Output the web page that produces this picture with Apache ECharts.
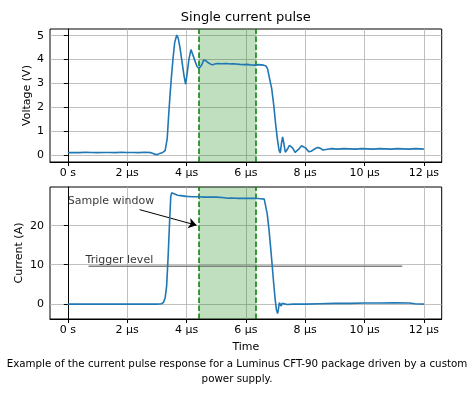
<!DOCTYPE html>
<html>
<head>
<meta charset="utf-8">
<script src="https://cdn.jsdelivr.net/npm/echarts@6/dist/echarts.min.js"></script>
<style>
html,body{margin:0;padding:0;background:#fff;}
#chart{width:474px;height:393px;}
</style>
</head>
<body>
<div id="chart"></div>
<script>
// ---- data ----
var xTicks = [0, 2, 4, 6, 8, 10, 12];
var voltTicks = [0, 1, 2, 3, 4, 5];
var currTicks = [0, 10, 20];
var windowStart = 4.42, windowEnd = 6.35;

var voltTime = [0.0,0.2,0.4,0.6,0.8,1.0,1.2,1.4,1.6,1.8,2.0,2.2,2.4,2.6,2.8,2.9,2.95,3.0,3.1,3.2,3.28,3.35,3.4,3.45,3.5,3.55,3.6,3.67,3.72,3.78,3.85,3.92,3.97,4.02,4.08,4.15,4.2,4.27,4.35,4.42,4.5,4.58,4.65,4.72,4.8,4.88,4.95,5.05,5.2,5.35,5.5,5.65,5.8,5.95,6.05,6.15,6.3,6.45,6.6,6.68,6.73,6.8,6.87,6.94,7.0,7.06,7.12,7.16,7.2,7.24,7.28,7.33,7.4,7.47,7.52,7.58,7.66,7.72,7.8,7.88,7.94,8.02,8.12,8.2,8.3,8.42,8.5,8.6,8.75,8.9,9.1,9.3,9.5,9.7,9.9,10.1,10.3,10.5,10.7,10.9,11.1,11.3,11.5,11.7,11.9,12.0];
var voltValue = [0.11,0.12,0.11,0.13,0.12,0.11,0.12,0.12,0.11,0.13,0.12,0.12,0.11,0.13,0.11,0.06,0.01,0.02,0.08,0.12,0.2,0.7,1.7,2.6,3.4,4.1,4.7,5.03,4.9,4.5,3.9,3.3,2.97,3.4,4.0,4.42,4.35,4.0,3.72,3.63,3.75,3.98,3.96,3.88,3.82,3.78,3.82,3.84,3.83,3.84,3.82,3.82,3.80,3.79,3.80,3.78,3.77,3.79,3.77,3.73,3.62,3.2,2.8,2.1,1.35,0.7,0.2,0.1,0.5,0.77,0.5,0.13,0.25,0.42,0.45,0.3,0.12,0.12,0.28,0.4,0.42,0.3,0.15,0.17,0.25,0.33,0.3,0.22,0.25,0.28,0.26,0.28,0.27,0.26,0.28,0.27,0.26,0.28,0.27,0.26,0.28,0.27,0.26,0.28,0.27,0.26];

var currTime = [0,1,2,3,3.15,3.22,3.28,3.33,3.38,3.43,3.47,3.5,3.55,3.6,3.7,3.8,4.0,4.2,4.4,4.6,4.8,5.0,5.2,5.4,5.5,5.7,5.9,6.1,6.3,6.5,6.62,6.67,6.72,6.78,6.84,6.89,6.94,6.99,7.03,7.07,7.1,7.13,7.16,7.19,7.22,7.27,7.4,7.6,8.0,8.5,9.0,9.5,10.0,10.5,11.0,11.5,11.7,12.0];
var currValue = [-0.1,-0.1,-0.1,-0.1,0.0,0.3,1.5,4.5,12,21,27.5,28.4,28.0,28.1,27.8,27.7,27.5,27.4,27.4,27.3,27.3,27.3,27.2,27.0,27.1,27.0,27.0,27.0,27.0,26.9,26.8,26.4,23,19,14,9.6,5,1,-1.5,-2.5,-1.2,0.3,0.8,-0.6,0.1,-0.3,-0.2,-0.1,-0.1,0.0,0.1,0.1,0.2,0.2,0.25,0.2,0.0,-0.1];

var triggerTime = [0.7, 11.27];
var triggerLevel = 9.6;
var arrowFrom = [2.42, 24.1];
var arrowTo = [4.34, 20.1];
var sampleLabelPos = [0.0, 26.3];
var triggerLabelPos = [0.6, 11.1];

function zip(a, b) { return a.map(function (v, i) { return [v, b[i]]; }); }

var FONT = 'DejaVu Sans';
var GRIDC = '#b0b0b0';

function xAxisCfg(idx, withName) {
  var c = {
    type: 'value', gridIndex: idx, min: -0.6, max: 12.6,
    axisLine: { show: true, onZero: false, lineStyle: { color: '#000', width: 1 } },
    axisTick: { show: true, length: 4, customValues: xTicks, lineStyle: { color: '#000' } },
    axisLabel: { customValues: xTicks, color: '#000', fontFamily: FONT, fontSize: 11, margin: 6,
      formatter: function (v) { return v === 0 ? '0 s' : v + ' \u00b5s'; } },
    splitLine: { show: true, lineStyle: { color: GRIDC, width: 0.8 } }
  };
  if (withName) {
    c.name = 'Time'; c.nameLocation = 'middle'; c.nameGap = 23; c.nameMoveOverlap = false;
    c.nameTextStyle = { color: '#000', fontFamily: FONT, fontSize: 11 };
  }
  return c;
}
function yAxisCfg(idx, min, max, ticks, name, gap) {
  return {
    type: 'value', gridIndex: idx, min: min, max: max,
    name: name, nameLocation: 'middle', nameGap: gap, nameMoveOverlap: false,
    nameTextStyle: { color: '#000', fontFamily: FONT, fontSize: 11 },
    axisLine: { show: true, lineStyle: { color: '#000', width: 1 } },
    axisTick: { show: true, length: 4, customValues: ticks, lineStyle: { color: '#000' } },
    axisLabel: { customValues: ticks, color: '#000', fontFamily: FONT, fontSize: 11, margin: 6 },
    splitLine: { show: true, lineStyle: { color: GRIDC, width: 0.8 } }
  };
}

var windowArea = {
  silent: true,
  itemStyle: { color: 'rgba(0,128,0,0.25)' },
  data: [[{ xAxis: windowStart }, { xAxis: windowEnd }]]
};
var windowLines = {
  silent: true, symbol: 'none',
  lineStyle: { color: '#008000', type: [5.5, 2.5], width: 1.5 },
  label: { show: false },
  data: [{ xAxis: windowStart }, { xAxis: windowEnd }]
};

var option = {
  animation: false,
  backgroundColor: '#fff',
  title: [
    { text: 'Single current pulse', left: 245.8, textAlign: 'center', top: 11, padding: 0,
      textStyle: { fontFamily: FONT, fontSize: 13, fontWeight: 'normal', color: '#000' } },
    { text: 'Example of the current pulse response for a Luminus CFT-90 package driven by a custom\npower supply.',
      left: 237, top: 357, textAlign: 'center', padding: 0,
      textStyle: { fontFamily: FONT, fontSize: 10.3, fontWeight: 'normal', color: '#000', lineHeight: 15, align: 'center' } }
  ],
  grid: [
    { left: 50, top: 29, width: 391.7, height: 133, show: true, borderColor: '#000', borderWidth: 1, backgroundColor: 'transparent' },
    { left: 50, top: 187, width: 391.7, height: 132, show: true, borderColor: '#000', borderWidth: 1, backgroundColor: 'transparent' }
  ],
  xAxis: [xAxisCfg(0, false), xAxisCfg(1, true)],
  yAxis: [
    yAxisCfg(0, -0.28, 5.28, voltTicks, 'Voltage (V)', 17),
    yAxisCfg(1, -3.9, 29.9, currTicks, 'Current (A)', 25.5)
  ],
  series: [
    { type: 'line', xAxisIndex: 0, yAxisIndex: 0, data: zip(voltTime, voltValue),
      showSymbol: false, z: 5, lineStyle: { color: '#1f77b4', width: 1.6 }, itemStyle: { color: '#1f77b4' },
      markArea: windowArea, markLine: windowLines },
    { type: 'line', xAxisIndex: 1, yAxisIndex: 1, data: zip(currTime, currValue),
      showSymbol: false, z: 5, lineStyle: { color: '#1f77b4', width: 1.6 }, itemStyle: { color: '#1f77b4' },
      markArea: windowArea, markLine: windowLines },
    { type: 'line', xAxisIndex: 1, yAxisIndex: 1,
      data: triggerTime.map(function (t) { return [t, triggerLevel]; }),
      showSymbol: false, z: 4, lineStyle: { color: '#808080', width: 1.5 },
      markLine: {
        silent: true, symbol: ['none', 'arrow'], symbolSize: 8,
        lineStyle: { color: '#000', width: 1, type: 'solid' }, label: { show: false },
        data: [[{ coord: arrowFrom }, { coord: arrowTo }]]
      } },
    { type: 'scatter', xAxisIndex: 1, yAxisIndex: 1, symbolSize: 0, z: 6,
      data: [
        { value: sampleLabelPos, name: 'Sample window' },
        { value: triggerLabelPos, name: 'Trigger level' }
      ],
      label: { show: true, position: 'right', distance: 0, formatter: '{b}',
        color: '#000', fontFamily: FONT, fontSize: 11 } }
  ]
};

var chart = echarts.init(document.getElementById('chart'), null, { renderer: 'canvas' });
chart.setOption(option);
</script>
</body>
</html>
